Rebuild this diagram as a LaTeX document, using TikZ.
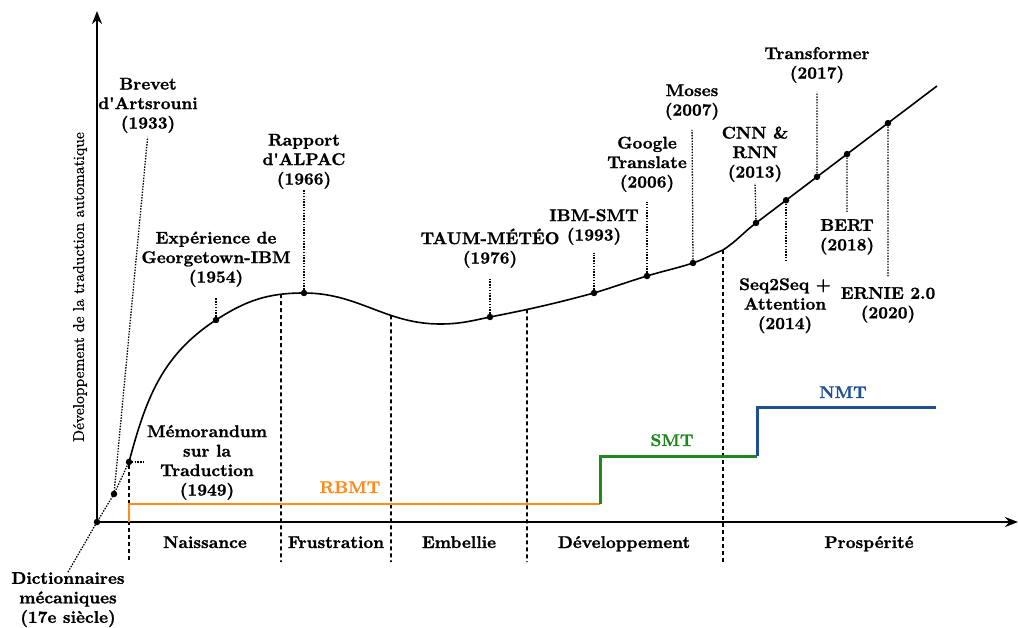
\documentclass[tikz,border=0pt]{standalone}
\usepackage{fontspec}
\setmainfont{lmroman10-regular.otf}[BoldFont=lmroman10-bold.otf,BoldFeatures={FakeBold=1.2}]
\newfontfamily\yfont{lmroman10-regular.otf}[FakeBold=0.8]
\usetikzlibrary{arrows.meta,intersections,calc}
\definecolor{rbmtc}{RGB}{255,140,26}
\definecolor{smtc}{RGB}{30,135,30}
\definecolor{nmtc}{RGB}{30,80,145}
\begin{document}
\begin{tikzpicture}[x=1pt,y=1pt,
  axisline/.style={line width=1.9pt,-{Stealth[length=13pt,width=10pt]}},
  curveline/.style={line width=1.6pt},
  phaseline/.style={line width=1.7pt,dash pattern=on 4pt off 3pt},
  leader/.style={line width=1.3pt,dash pattern=on 1.4pt off 1.4pt},
  stepline/.style={line width=3pt},
  dot/.style={circle,fill=black,inner sep=0pt,minimum size=6.5pt},
  lab/.style={font=\fontsize{17}{19.5}\selectfont\bfseries,align=center,inner sep=0pt},
  phaselab/.style={font=\fontsize{17}{19.5}\selectfont\bfseries,anchor=base,inner sep=0pt},
  steplab/.style={font=\fontsize{17}{19.5}\selectfont\bfseries,anchor=base,inner sep=0pt},
  ylab/.style={font=\yfont\fontsize{15.6}{18}\selectfont,rotate=90,inner sep=0pt}
]
\useasboundingbox (0,0) rectangle (1019,627);

% key points
\coordinate (P0) at (97,105);
\coordinate (P1) at (114,133);
\coordinate (P2) at (129,165);
\coordinate (G) at (216,307);
\coordinate (A) at (304,334);
\coordinate (M) at (440,303);
\coordinate (T) at (490,310);
\coordinate (I) at (594,334);
\coordinate (GO) at (647,351);
\coordinate (MO) at (693,364);
\coordinate (K) at (723,377);
\coordinate (C) at (756,404);
\coordinate (E) at (937,541);
\coordinate (S) at ($(C)!0.166!(E)$);
\coordinate (TR) at ($(C)!0.337!(E)$);
\coordinate (BE) at ($(C)!0.503!(E)$);
\coordinate (ER) at ($(C)!0.729!(E)$);

% axes
\coordinate (Ytip) at (97,616);
\coordinate (Xtip) at (1018,105);
\draw[axisline] (P0) -- (Ytip);
\draw[axisline] (P0) -- (Xtip);
\node[ylab] (ylabel) at (80,340) {Développement de la traduction automatique};

% main curve
\draw[curveline,name path=curve] (P2) to[out=75,in=213] (G) to[out=33,in=180] (A)
  to[out=0,in=180] (M) to[out=0,in=192] (T) to[out=11,in=195] (I)
  to[out=17,in=197] (GO) to[out=17,in=198] (MO) to[out=19,in=202] (K)
  to[out=33,in=217] (C) -- (E);

% phase boundaries
\foreach \n/\x in {2/281,3/391,4/527}{
  \path[name path=v\n] (\x,0) -- (\x,627);
  \path[name intersections={of=curve and v\n,by={B\n}}];
  \coordinate (B\n b) at (\x,65);
  \draw[phaseline] (B\n) -- (B\n b);
}
\coordinate (B1b) at (129,65);
\coordinate (B5b) at (723,65);
\draw[phaseline] ([yshift=-3pt]P2) -- (B1b);
\draw[phaseline] (K) -- (B5b);

% step lines
\coordinate (R0) at (129,105);
\coordinate (R1) at (129,123);
\coordinate (R2) at (600,123);
\coordinate (S1) at (600,171);
\coordinate (S2) at (757,171);
\coordinate (N1) at (757,220);
\coordinate (N2) at (936,220);
\draw[stepline,line width=2.5pt,rbmtc] (R0) -- (R1) -- (R2);
\draw[stepline,smtc] (R2) -- (S1) -- (S2);
\draw[stepline,nmtc] (S2) -- (N1) -- (N2);
\node[steplab,text=rbmtc] (rbmt) at (350,134) {RBMT};
\node[steplab,text=smtc] (smt) at (672,181) {SMT};
\node[steplab,text=nmtc] (nmt) at (843,229) {NMT};

% phase labels
\node[phaselab] (ph1) at (205,79) {Naissance};
\node[phaselab] (ph2) at (336,79) {Frustration};
\node[phaselab] (ph3) at (459,79) {Embellie};
\node[phaselab] (ph4) at (624,79) {Développement};
\node[phaselab] (ph5) at (869,79) {Prospérité};

% event labels
\node[lab,anchor=south] (brevet) at (148,494) {Brevet\\d\textquotesingle Artsrouni\\(1933)};
\node[lab,anchor=south] (alpac) at (304,438) {Rapport\\d\textquotesingle ALPAC\\(1966)};
\node[lab,anchor=south] (georg) at (216,340) {Expérience de\\Georgetown-IBM\\(1954)};
\node[lab,anchor=south] (memo) at (207,127) {Mémorandum\\sur la\\Traduction\\(1949)};
\node[lab,anchor=north] (dict) at (68,55) {Dictionnaires\\mécaniques\\(17e siècle)};
\node[lab,anchor=south] (taum) at (490,359) {TAUM-MÉTÉO\\(1976)};
\node[lab,anchor=south] (ibm) at (594,382) {IBM-SMT\\(1993)};
\node[lab,anchor=south] (google) at (647,435) {Google\\Translate\\(2006)};
\node[lab,anchor=south] (moses) at (692,507) {Moses\\(2007)};
\node[lab,anchor=south] (cnn) at (755,445) {CNN \&\\RNN\\(2013)};
\node[lab,anchor=south] (trans) at (817,544) {Transformer\\(2017)};
\node[lab,anchor=north] (seq) at (785,349) {Seq2Seq +\\Attention\\(2014)};
\node[lab,anchor=north] (bert) at (847,408) {BERT\\(2018)};
\node[lab,anchor=north] (ernie) at (888,340) {ERNIE 2.0\\(2020)};

% dots
\node[dot] (d0) at (P0) {};
\node[dot] (d1) at (P1) {};
\node[dot] (d2) at (P2) {};
\node[dot] (dg) at (G) {};
\node[dot] (da) at (A) {};
\node[dot] (dt) at (T) {};
\node[dot] (di) at (I) {};
\node[dot] (dgo) at (GO) {};
\node[dot] (dmo) at (MO) {};
\node[dot] (dc) at (C) {};
\node[dot] (ds) at (S) {};
\node[dot] (dtr) at (TR) {};
\node[dot] (dbe) at (BE) {};
\node[dot] (der) at (ER) {};

% leaders
\coordinate (memoend) at (145,165);
\draw[leader] (dict.north) -- (P0) -- (P1) -- (P2);
\draw[leader] (P2) -- (memoend);
\draw[leader,shorten >=4pt] (P1) -- (brevet.south);
\draw[leader,shorten >=1pt] (da) -- (alpac.south);
\draw[leader,shorten >=10pt] (dg) -- (georg.south);
\draw[leader,shorten >=10pt] (dt) -- (taum.south);
\draw[leader,shorten >=8pt] (di) -- (ibm.south);
\draw[leader,shorten >=10pt] (dgo) -- (google.south);
\draw[leader,shorten >=10pt] (dmo) -- (moses.south);
\draw[leader,shorten >=1pt] (dc) -- (cnn.south);
\draw[leader,shorten >=9pt] (dtr) -- (trans.south);
\draw[leader,shorten >=18pt] (ds) -- (ds |- seq.north);
\draw[leader,shorten >=7pt] (dbe) -- (bert.north);
\draw[leader,shorten >=10pt] (der) -- (ernie.north);
\end{tikzpicture}
\end{document}
